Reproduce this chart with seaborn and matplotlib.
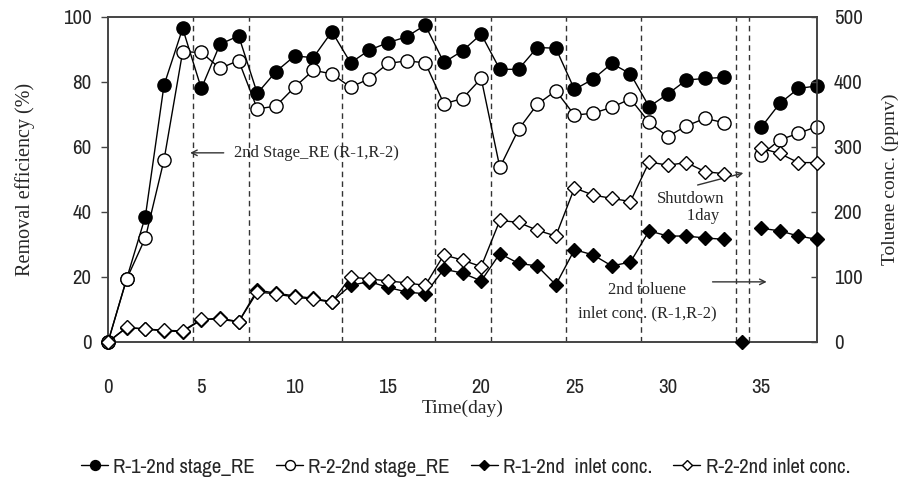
import matplotlib
matplotlib.use('Agg')
import matplotlib.pyplot as plt
from matplotlib.lines import Line2D
import numpy as np
import seaborn as sns

# removal efficiency (%), days 0-33 and 35-38 (shutdown on day 34)
days_a = list(range(0, 34))
days_b = [35, 36, 37, 38]

r1_re_a = [0, 19.5, 38.6, 79, 96.5, 78, 91.6, 94.2, 76.5, 83.2, 88, 87.5, 95.5,
           85.9, 89.8, 92.1, 93.9, 97.5, 86, 89.6, 94.7, 83.9, 83.9, 90.6, 90.4,
           77.7, 80.9, 85.7, 82.5, 72.4, 76.3, 80.6, 81.1, 81.4]
r1_re_b = [66, 73.4, 78, 78.8]

r2_re_a = [0, 19.4, 32, 56, 89.3, 89.1, 84.2, 86.6, 71.7, 72.6, 78.4, 83.6, 82.5,
           78.4, 81, 85.7, 86.5, 85.9, 73.3, 74.9, 81.1, 53.7, 65.4, 73.1, 77.3,
           69.8, 70.4, 72.2, 74.8, 67.6, 63.2, 66.5, 68.8, 67.5]
r2_re_b = [57.5, 62.2, 64.2, 66.3]

# inlet toluene concentration (ppmv)
r1_in_a = [0, 22, 20, 17, 16, 34, 37, 31, 80, 75, 71, 67, 62,
           87, 93, 84, 77, 74, 112, 106, 94, 136, 121, 117, 88,
           142, 134, 117, 123, 171, 163, 163, 160, 158]
r1_in_shut = [0]
r1_in_b = [175, 171, 163, 158]

r2_in_a = [0, 22.6, 20, 18, 17, 35, 35, 31, 77, 74, 69, 66, 61,
           100, 97, 94, 91, 87, 134, 126, 116, 187, 184, 172, 163,
           237, 226, 221, 216, 277, 272, 276, 262, 259]
r2_in_b = [298, 290, 276, 276]

stage_changes = [4.55, 7.55, 12.55, 17.55, 20.55, 24.55, 28.55, 33.65, 34.35]

sns.set_style('white')
serif = ['Liberation Serif', 'DejaVu Serif']
narrow = ['Archivo Narrow', 'Liberation Sans', 'DejaVu Sans']
plt.rcParams['font.family'] = narrow

fig = plt.figure(figsize=(9.04, 4.84), dpi=100)
ax = fig.add_axes([0.1195, 0.2934, 0.7843, 0.6715])
ax2 = ax.twinx()

circ = dict(marker='o', markersize=9.5, markeredgecolor='black', markeredgewidth=1,
            color='black', linewidth=1)
diam = dict(marker='D', markersize=7, markeredgecolor='black', markeredgewidth=1,
            color='black', linewidth=1)

for d, v in [(days_a, r1_re_a), (days_b, r1_re_b)]:
    sns.lineplot(x=d, y=v, ax=ax, markerfacecolor='black', zorder=4, clip_on=False, **circ)
for d, v in [(days_a, r2_re_a), (days_b, r2_re_b)]:
    sns.lineplot(x=d, y=v, ax=ax, markerfacecolor='white', zorder=5, clip_on=False, **circ)
for d, v in [(days_a, r1_in_a), ([34], r1_in_shut), (days_b, r1_in_b)]:
    sns.lineplot(x=d, y=v, ax=ax2, markerfacecolor='black', zorder=4, clip_on=False, **diam)
for d, v in [(days_a, r2_in_a), (days_b, r2_in_b)]:
    sns.lineplot(x=d, y=v, ax=ax2, markerfacecolor='white', zorder=5, clip_on=False, **diam)

for xc in stage_changes:
    ax.axvline(xc, color='#333333', linestyle=(0, (4, 3)), linewidth=1)

ax.set_xlim(0, 38)
ax.set_ylim(0, 100)
ax2.set_ylim(0, 500)
ax.set_xticks(range(0, 40, 5))
ax.set_yticks(range(0, 101, 20))
ax2.set_yticks(range(0, 501, 100))

for a in (ax, ax2):
    for s in a.spines.values():
        s.set_color('#444444')
        s.set_linewidth(1.2)
ax.tick_params(axis='x', direction='out', length=7, width=1, pad=19, labelsize=15, color='#444444')
ax.tick_params(axis='y', direction='out', length=5, width=1, pad=7, labelsize=15, color='#444444')
ax2.tick_params(axis='y', direction='in', length=4, width=1, pad=12, labelsize=15, color='#444444')

ax.set_xlabel('Time(day)', fontsize=14, family=serif, labelpad=2)
ax.set_ylabel('Removal efficiency (%)', fontsize=14.5, family=serif, labelpad=20)
ax2.set_ylabel('Toluene conc. (ppmv)', fontsize=14, family=serif, labelpad=14, rotation=90)

arrow = dict(arrowstyle='->', color='#333333', linewidth=1, shrinkA=0, shrinkB=0)
ax.annotate('', xy=(4.4, 58.2), xytext=(6.2, 58.2), arrowprops=arrow)
ax.text(6.75, 58.2, '2nd Stage_RE (R-1,R-2)', fontsize=12, family=serif, va='center', ha='left')
ax.annotate('', xy=(34.05, 52), xytext=(31.6, 48.3), arrowprops=arrow)
ax.text(31.2, 41.5, 'Shutdown\n      1day', fontsize=12, family=serif, va='center', ha='center',
        linespacing=1.1)
ax.annotate('', xy=(35.3, 18.5), xytext=(32.4, 18.5), arrowprops=arrow)
ax.text(28.9, 12.3, '2nd toluene\ninlet conc. (R-1,R-2)', fontsize=12, family=serif,
        va='center', ha='center', linespacing=1.6)

handles = [
    Line2D([], [], markerfacecolor='black', **circ),
    Line2D([], [], markerfacecolor='white', **circ),
    Line2D([], [], markerfacecolor='black', **diam),
    Line2D([], [], markerfacecolor='white', **diam),
]
labels = ['R-1-2nd stage_RE', 'R-2-2nd stage_RE', 'R-1-2nd  inlet conc.', 'R-2-2nd inlet conc.']
fig.legend(handles, labels, loc='center', bbox_to_anchor=(0.515, 0.035), ncol=4,
           frameon=False, fontsize=15, handlelength=1.3, handletextpad=0.25,
           columnspacing=1.0, markerscale=0.75)

fig.savefig('out.png', dpi=100)
